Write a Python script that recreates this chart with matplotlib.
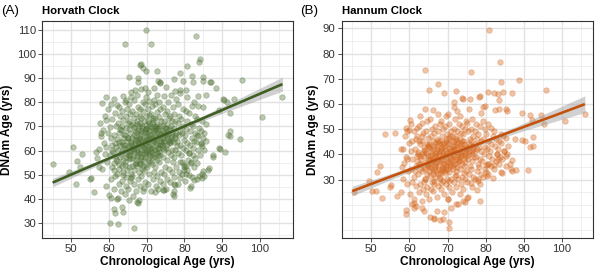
import numpy as np
import matplotlib
matplotlib.use('Agg')
import matplotlib.pyplot as plt

plt.rcParams['font.family'] = ['Liberation Sans', 'DejaVu Sans']

# --- Horvath clock: (chronological age, DNAm age) ---
horvath_points = [
    (45.0, 54.6), (50.3, 61.4), (49.4, 51.1), (51.5, 55.9), (51.1, 46.1), (52.8, 58.6), (52.3, 53.3),
    (55.1, 48.8), (55.0, 48.2), (56.6, 59.6), (56.7, 57.0), (57.2, 53.3), (55.9, 42.9), (59.0, 58.6),
    (60.2, 30.0), (62.4, 29.5), (66.6, 27.9), (61.3, 35.9), (61.5, 34.2), (63.4, 36.6), (63.6, 34.6),
    (62.1, 40.1), (60.4, 40.3), (65.3, 39.8), (67.4, 38.7), (68.0, 39.5), (67.7, 38.3), (69.0, 43.2),
    (72.3, 42.9), (74.3, 43.9), (76.9, 42.0), (77.3, 41.4), (74.6, 43.6), (77.5, 45.7), (78.9, 48.5),
    (81.5, 44.6), (82.1, 49.2), (83.4, 48.3), (84.6, 48.7), (84.6, 50.5), (86.2, 51.9), (87.5, 57.4),
    (89.2, 61.0), (90.7, 59.3), (92.0, 66.0), (94.8, 64.7), (84.5, 62.6), (81.2, 59.0), (82.2, 58.3),
    (80.3, 53.6), (79.9, 51.9), (79.4, 55.5), (92.1, 68.0), (91.5, 66.6), (89.4, 60.8), (87.7, 58.4),
    (86.4, 52.9), (84.8, 51.5), (85.1, 49.7), (83.8, 49.4), (82.4, 48.0), (81.7, 45.3), (80.4, 50.5),
    (77.3, 46.4), (77.3, 43.2), (80.0, 53.1), (81.7, 54.9), (83.3, 66.4), (84.4, 63.2), (57.9, 67.3),
    (64.1, 104.0), (69.9, 110.0), (71.2, 104.2), (83.1, 107.4), (68.1, 95.3), (68.5, 95.8), (69.1, 94.0),
    (69.9, 93.0), (72.6, 93.0), (84.0, 98.0), (83.8, 96.6), (80.8, 95.1), (78.9, 92.3), (65.3, 90.6),
    (67.7, 90.2), (67.6, 88.5), (73.0, 88.8), (73.4, 88.5), (73.6, 88.0), (77.2, 89.5), (79.6, 88.8),
    (81.9, 90.7), (82.2, 88.4), (85.0, 90.6), (86.9, 88.4), (85.0, 89.0), (88.5, 85.8), (95.4, 89.2),
    (106.0, 82.0), (100.7, 74.0), (92.1, 75.5), (58.2, 79.8), (59.1, 82.0), (62.0, 79.0), (64.4, 80.9),
    (65.7, 82.2), (67.0, 85.0), (69.6, 86.0), (71.8, 86.0), (77.5, 84.6), (78.7, 84.0), (80.5, 85.0),
    (83.7, 82.8), (85.8, 83.1), (90.1, 81.2), (91.2, 80.0), (93.2, 81.2), (89.1, 76.8), (85.0, 78.0),
    (83.5, 78.3), (82.0, 78.5), (90.6, 81.0), (87.0, 88.5),
    (57.3, 60.5), (57.8, 66.2), (57.5, 71.4),
    (58.2, 52.4), (58.6, 63.1), (58.4, 68.7), (58.9, 74.2),
    (59.1, 45.3), (59.5, 55.2), (59.3, 61.7), (59.7, 67.4), (59.2, 72.8), (59.8, 77.1),
    (60.1, 41.6), (60.4, 48.2), (60.7, 53.4), (60.2, 58.3), (60.8, 62.5), (60.5, 65.3), (60.3, 69.6),
    (60.9, 73.1), (60.6, 79.2),
    (61.2, 44.3), (61.6, 49.7), (61.4, 52.2), (61.8, 56.6), (61.1, 59.4), (61.7, 63.2), (61.3, 66.5),
    (61.9, 70.3), (61.5, 75.6), (61.2, 81.4),
    (62.3, 40.6), (62.7, 46.1), (62.1, 50.5), (62.5, 54.3), (62.9, 57.2), (62.4, 60.1), (62.8, 62.4),
    (62.2, 64.7), (62.6, 67.3), (62.3, 71.5), (62.9, 74.2), (62.5, 78.1),
    (63.1, 43.4), (63.5, 47.3), (63.8, 51.2), (63.3, 53.6), (63.6, 56.1), (63.2, 58.8), (63.9, 61.3),
    (63.4, 63.5), (63.7, 65.2), (63.1, 68.4), (63.5, 70.1), (63.8, 72.6), (63.3, 76.4), (63.6, 82.5),
    (64.2, 42.1), (64.6, 45.4), (64.4, 49.3), (64.8, 52.1), (64.1, 55.4), (64.5, 57.3), (64.9, 59.6),
    (64.3, 62.2), (64.7, 64.1), (64.2, 66.5), (64.6, 69.2), (64.9, 71.3), (64.4, 74.4), (64.8, 77.3),
    (64.3, 80.1),
    (65.1, 44.2), (65.5, 47.6), (65.8, 50.3), (65.3, 53.1), (65.6, 56.4), (65.2, 58.2), (65.9, 60.3),
    (65.4, 62.1), (65.7, 63.6), (65.1, 65.4), (65.5, 67.2), (65.8, 70.5), (65.3, 72.3), (65.6, 75.1),
    (65.2, 79.3), (65.7, 84.2),
    (66.3, 41.4), (66.7, 46.3), (66.1, 49.5), (66.5, 52.2), (66.9, 54.6), (66.2, 57.1), (66.6, 59.4),
    (66.4, 61.3), (66.8, 63.2), (66.1, 65.1), (66.5, 66.6), (66.9, 68.4), (66.3, 71.2), (66.7, 73.5),
    (66.2, 76.3), (66.6, 81.1),
    (67.2, 43.3), (67.6, 48.4), (67.9, 51.2), (67.4, 53.5), (67.1, 56.2), (67.7, 58.4), (67.3, 60.2),
    (67.8, 62.5), (67.5, 64.3), (67.2, 66.1), (67.6, 68.6), (67.9, 70.2), (67.4, 72.4), (67.1, 75.3),
    (67.7, 78.2), (67.3, 83.1),
    (68.1, 45.2), (68.5, 49.4), (68.8, 52.3), (68.3, 55.1), (68.6, 57.4), (68.2, 59.2), (68.9, 61.5),
    (68.4, 63.1), (68.7, 64.4), (68.1, 66.3), (68.5, 68.2), (68.8, 70.4), (68.3, 71.6), (68.6, 73.3),
    (68.2, 77.4), (68.9, 80.2), (68.4, 85.3),
    (69.2, 44.4), (69.6, 47.2), (69.3, 51.4), (69.8, 54.2), (69.1, 56.3), (69.5, 58.6), (69.9, 60.4),
    (69.4, 62.2), (69.7, 64.5), (69.2, 65.3), (69.6, 67.6), (69.9, 69.1), (69.3, 72.4), (69.7, 74.2),
    (69.1, 76.5), (69.5, 79.3), (69.8, 82.2),
    (70.3, 46.4), (70.7, 50.2), (70.1, 53.3), (70.5, 55.6), (70.9, 58.2), (70.2, 60.4), (70.6, 62.1),
    (70.4, 63.5), (70.8, 65.2), (70.1, 67.3), (70.5, 68.5), (70.9, 70.3), (70.3, 72.2), (70.7, 74.6),
    (70.2, 77.3), (70.6, 80.4), (70.4, 84.1),
    (71.2, 43.5), (71.6, 48.3), (71.9, 51.1), (71.3, 54.4), (71.7, 57.2), (71.1, 59.5), (71.5, 61.3),
    (71.8, 63.4), (71.4, 65.1), (71.2, 66.6), (71.6, 68.3), (71.9, 70.2), (71.3, 71.5), (71.7, 73.4),
    (71.1, 75.2), (71.5, 78.3), (71.8, 81.1),
    (72.4, 45.3), (72.8, 49.5), (72.2, 53.2), (72.6, 56.3), (72.9, 58.1), (72.3, 60.4), (72.7, 62.2),
    (72.1, 64.3), (72.5, 66.2), (72.9, 67.4), (72.4, 69.3), (72.8, 71.2), (72.2, 73.5), (72.6, 76.1),
    (72.3, 79.4), (72.7, 83.2),
    (73.1, 44.2), (73.5, 47.4), (73.8, 51.3), (73.3, 55.2), (73.6, 58.4), (73.2, 61.2), (73.9, 63.3),
    (73.4, 65.4), (73.7, 67.2), (73.1, 69.5), (73.5, 70.4), (73.8, 72.3), (73.3, 74.1), (73.6, 77.4),
    (73.2, 80.3),
    (74.2, 46.2), (74.6, 50.4), (74.9, 53.1), (74.3, 57.3), (74.7, 60.2), (74.1, 62.4), (74.5, 64.2),
    (74.8, 66.5), (74.4, 68.1), (74.2, 70.4), (74.6, 72.2), (74.9, 75.3), (74.3, 78.1), (74.7, 82.4),
    (75.1, 44.3), (75.5, 48.2), (75.8, 52.4), (75.3, 56.1), (75.6, 59.3), (75.2, 61.2), (75.9, 63.4),
    (75.4, 65.5), (75.7, 67.1), (75.1, 69.4), (75.5, 71.2), (75.8, 73.3), (75.3, 76.2), (75.6, 80.1),
    (75.2, 86.3),
    (76.2, 47.1), (76.6, 51.3), (76.9, 55.2), (76.4, 58.4), (76.7, 60.1), (76.1, 63.3), (76.5, 65.2),
    (76.8, 67.4), (76.3, 70.1), (76.6, 72.3), (76.2, 74.4), (76.9, 78.2), (76.4, 83.1),
    (77.3, 49.2), (77.7, 53.4), (77.1, 57.2), (77.5, 60.3), (77.9, 62.1), (77.4, 65.3), (77.8, 67.2),
    (77.2, 69.4), (77.6, 72.1), (77.3, 75.3), (77.7, 81.2),
    (78.2, 46.3), (78.6, 51.1), (78.9, 55.3), (78.4, 59.2), (78.7, 62.4), (78.1, 64.1), (78.5, 66.3),
    (78.8, 68.2), (78.3, 71.4), (78.6, 74.2), (78.2, 79.1), (78.9, 85.2),
    (79.4, 50.2), (79.8, 54.1), (79.2, 58.3), (79.6, 61.2), (79.9, 64.4), (79.3, 67.1), (79.7, 70.3),
    (79.1, 73.2), (79.5, 77.4),
    (80.2, 47.4), (80.6, 52.2), (80.9, 56.1), (80.3, 60.3), (80.7, 63.2), (80.1, 66.4), (80.5, 69.1),
    (80.8, 72.3), (80.4, 76.2), (80.6, 82.1),
    (81.3, 50.1), (81.7, 55.3), (81.1, 59.2), (81.5, 62.4), (81.9, 65.1), (81.4, 68.3), (81.8, 71.2),
    (81.2, 75.4),
    (82.4, 53.2), (82.8, 57.1), (82.2, 61.3), (82.6, 64.2), (82.9, 67.4), (82.3, 70.1), (82.7, 74.3),
    (82.5, 80.2),
    (83.3, 55.1), (83.7, 60.2), (83.1, 63.4), (83.5, 66.1), (83.9, 69.3), (83.4, 73.2),
    (84.2, 58.3), (84.6, 62.1), (84.9, 65.3), (84.4, 68.2), (84.7, 72.1),
    (85.3, 60.4), (85.7, 64.2), (85.1, 67.3), (85.6, 71.1),
    # the darker centre of the cloud
    (61.5, 57.8), (61.9, 61.7), (62.2, 55.7), (62.6, 63.5), (62.9, 68.8), (63.3, 59.9), (63.6, 62.4),
    (63.9, 66.7), (64.1, 53.9), (64.4, 58.5), (64.7, 61.1), (64.9, 65.3), (65.2, 56.9), (65.5, 59.4),
    (65.8, 62.8), (65.3, 68.9), (66.1, 53.6), (66.4, 58.2), (66.7, 60.6), (66.2, 62.3), (66.9, 64.6),
    (66.6, 69.7), (67.1, 55.1), (67.4, 57.5), (67.8, 59.6), (67.3, 61.4), (67.6, 63.5), (67.9, 65.4),
    (67.2, 67.6), (67.5, 70.9), (68.2, 54.3), (68.6, 56.1), (68.9, 58.5), (68.4, 60.3), (68.7, 62.4),
    (68.1, 64.9), (68.4, 67.1), (68.8, 69.3), (68.3, 74.5), (69.1, 53.7), (69.5, 57.4), (69.8, 59.6),
    (69.2, 61.3), (69.6, 63.3), (69.9, 66.1), (69.4, 68.4), (69.7, 70.6), (70.2, 56.7), (70.6, 59.2),
    (70.9, 61.2), (70.3, 64.4), (70.7, 66.3), (70.1, 69.4), (70.5, 71.3), (71.1, 55.4), (71.4, 58.2),
    (71.8, 60.4), (71.2, 62.5), (71.6, 64.3), (71.9, 67.4), (71.3, 69.2), (71.7, 72.5), (72.3, 57.4),
    (72.6, 59.2), (72.9, 61.3), (72.4, 63.2), (72.8, 65.3), (72.2, 68.4), (72.5, 70.3), (73.2, 59.3),
    (73.6, 62.3), (73.9, 64.2), (73.4, 66.4), (73.1, 68.4), (74.3, 61.3), (74.7, 63.4), (74.2, 65.3),
    (74.6, 67.3), (74.9, 69.3), (75.4, 62.3), (75.8, 64.4), (75.2, 66.3), (75.6, 68.4), (76.3, 64.1),
    (76.7, 66.2), (76.2, 68.8), (77.2, 63.5), (77.6, 66.3), (61.2, 55.1), (60.7, 60.2), (62.5, 52.3),
    (63.7, 49.8), (65.7, 48.6),
]

# --- Hannum clock ---
hannum_points = [
    (45.5, 25.1), (50.2, 25.4), (51.2, 25.4), (49.3, 29.3), (51.6, 33.0), (52.2, 35.5), (52.9, 22.5),
    (55.3, 28.0), (55.0, 27.1), (56.7, 23.4), (57.7, 25.1), (57.8, 42.1), (59.1, 39.1), (58.1, 35.1),
    (59.2, 17.8), (59.2, 16.3), (61.3, 20.8), (61.8, 19.5), (63.8, 17.5), (66.4, 14.5), (68.0, 13.8),
    (69.2, 17.3), (70.5, 10.6), (70.3, 13.1), (72.2, 20.1), (74.0, 21.4), (75.1, 22.5), (78.6, 21.4),
    (78.1, 29.3), (80.5, 32.0), (81.8, 30.7), (83.9, 33.0), (84.2, 32.4), (86.6, 34.1), (87.0, 33.4),
    (86.9, 37.9), (91.1, 33.8), (91.5, 42.8), (92.3, 43.4), (90.3, 45.4), (89.5, 45.8), (92.5, 47.0),
    (87.6, 46.2), (84.8, 41.2), (83.1, 38.3), (82.3, 35.6), (80.1, 35.6),
    (59.4, 49.2), (60.6, 20.2), (61.1, 18.9), (63.2, 18.9), (65.4, 15.3), (66.4, 14.7), (68.9, 14.3),
    (67.3, 17.6), (71.0, 18.9), (72.8, 20.2), (74.5, 20.9), (70.0, 22.4), (87.9, 33.8), (86.4, 36.3),
    (85.3, 39.4), (83.0, 40.0), (80.7, 36.0), (80.4, 31.5), (77.9, 30.1), (77.8, 25.8), (75.4, 22.9),
    (76.2, 28.8),
    (80.9, 89.5), (64.1, 73.3), (76.2, 72.6), (83.8, 76.5), (84.1, 68.8), (88.8, 69.4), (95.7, 65.5),
    (65.1, 65.5), (67.6, 68.0), (69.2, 64.3), (72.3, 65.2), (78.2, 62.9), (80.5, 64.9), (83.3, 63.8),
    (84.6, 64.7), (86.8, 64.2), (74.0, 62.0), (75.9, 62.0), (79.7, 59.2), (79.4, 58.6), (64.2, 58.1),
    (66.2, 57.6), (71.6, 58.7), (82.4, 57.5), (83.5, 58.1), (85.2, 58.0), (85.6, 57.0), (89.6, 56.3),
    (91.7, 55.5), (94.6, 55.5), (95.3, 52.1), (100.9, 53.4), (106.1, 55.9), (92.2, 53.7), (60.2, 53.7),
    (56.1, 48.4), (60.0, 49.5), (53.6, 48.0), (61.9, 50.4), (83.6, 61.6), (78.4, 63.2), (82.3, 64.2),
    (71.7, 60.9), (73.9, 62.2), (70.2, 55.9),
    (58.2, 30.3), (58.6, 36.4), (58.4, 42.2), (58.8, 47.1),
    (59.3, 28.2), (59.7, 33.4), (59.5, 38.1), (59.8, 44.3), (59.2, 50.4),
    (60.2, 24.3), (60.6, 29.1), (60.4, 34.2), (60.8, 38.3), (60.3, 41.2), (60.7, 45.4), (60.5, 52.1),
    (61.3, 22.2), (61.7, 27.3), (61.2, 31.1), (61.6, 35.4), (61.9, 39.2), (61.4, 42.3), (61.8, 46.1),
    (61.2, 49.3),
    (62.4, 25.2), (62.8, 28.3), (62.2, 32.1), (62.6, 36.2), (62.9, 39.4), (62.3, 41.1), (62.7, 44.2),
    (62.1, 47.3), (62.5, 51.2), (62.8, 55.1),
    (63.2, 21.3), (63.6, 26.1), (63.9, 29.2), (63.4, 33.3), (63.7, 35.1), (63.1, 38.2), (63.5, 40.4),
    (63.8, 43.1), (63.3, 45.2), (63.6, 48.3), (63.2, 52.4),
    (64.3, 24.1), (64.7, 27.2), (64.1, 30.4), (64.5, 32.3), (64.9, 35.2), (64.4, 37.1), (64.8, 39.3),
    (64.2, 41.4), (64.6, 44.1), (64.9, 46.3), (64.3, 49.2), (64.7, 53.3),
    (65.2, 22.4), (65.6, 26.2), (65.9, 29.1), (65.3, 31.3), (65.7, 34.4), (65.1, 36.1), (65.5, 38.2),
    (65.8, 40.3), (65.4, 42.4), (65.2, 44.2), (65.6, 47.1), (65.9, 50.2), (65.3, 54.1),
    (66.1, 25.3), (66.5, 28.1), (66.8, 31.2), (66.3, 33.4), (66.7, 35.3), (66.2, 37.2), (66.6, 39.4),
    (66.9, 41.1), (66.4, 43.3), (66.1, 45.2), (66.5, 48.4), (66.8, 51.2),
    (67.2, 23.2), (67.6, 27.4), (67.9, 30.1), (67.4, 32.2), (67.8, 34.3), (67.1, 36.4), (67.5, 38.1),
    (67.8, 40.2), (67.3, 42.3), (67.7, 44.4), (67.2, 46.1), (67.6, 49.3), (67.9, 52.2), (67.4, 56.1),
    (68.3, 26.1), (68.7, 29.3), (68.1, 31.2), (68.5, 33.4), (68.9, 35.1), (68.4, 37.3), (68.8, 39.2),
    (68.2, 41.4), (68.6, 43.1), (68.1, 45.3), (68.5, 47.2), (68.9, 50.1), (68.3, 53.2),
    (69.2, 24.3), (69.6, 28.1), (69.9, 30.2), (69.3, 32.4), (69.7, 34.1), (69.1, 36.3), (69.5, 38.2),
    (69.8, 40.4), (69.4, 42.1), (69.2, 44.3), (69.6, 46.2), (69.9, 48.1), (69.3, 51.3), (69.7, 55.2),
    (70.1, 22.3), (70.5, 27.2), (70.8, 30.4), (70.3, 33.1), (70.7, 35.3), (70.2, 37.1), (70.6, 39.3),
    (70.9, 41.2), (70.4, 42.4), (70.1, 44.1), (70.5, 46.3), (70.8, 49.2), (70.3, 52.1),
    (71.2, 25.2), (71.6, 29.1), (71.9, 31.3), (71.4, 34.2), (71.8, 36.1), (71.1, 38.3), (71.5, 40.1),
    (71.8, 42.2), (71.3, 43.4), (71.7, 45.1), (71.2, 47.3), (71.6, 50.2), (71.9, 54.1),
    (72.3, 27.1), (72.7, 30.3), (72.1, 33.2), (72.5, 35.1), (72.9, 37.3), (72.4, 39.2), (72.8, 41.1),
    (72.2, 43.3), (72.6, 45.2), (72.1, 47.1), (72.5, 49.3), (72.9, 52.2), (72.4, 57.1),
    (73.2, 24.2), (73.6, 28.3), (73.9, 31.1), (73.3, 34.2), (73.7, 36.3), (73.1, 38.1), (73.5, 40.2),
    (73.8, 42.4), (73.4, 44.1), (73.2, 46.2), (73.6, 48.4), (73.9, 51.1), (73.3, 55.2),
    (74.1, 26.3), (74.5, 30.1), (74.8, 33.2), (74.3, 35.3), (74.7, 37.1), (74.2, 39.3), (74.6, 41.2),
    (74.9, 43.1), (74.4, 45.3), (74.1, 48.2), (74.5, 50.1), (74.8, 53.3),
    (75.2, 29.2), (75.6, 32.1), (75.9, 35.3), (75.3, 38.2), (75.7, 40.1), (75.1, 42.3), (75.5, 44.2),
    (75.8, 46.1), (75.4, 49.2), (75.2, 52.3), (75.6, 58.1),
    (76.3, 27.2), (76.7, 31.1), (76.1, 34.3), (76.5, 37.2), (76.9, 39.1), (76.4, 41.3), (76.8, 43.2),
    (76.2, 45.1), (76.6, 47.3), (76.1, 50.2), (76.5, 54.1),
    (77.2, 30.1), (77.6, 33.3), (77.9, 36.2), (77.4, 39.1), (77.8, 42.3), (77.3, 44.2), (77.7, 46.1),
    (77.1, 49.2), (77.5, 52.1),
    (78.4, 28.1), (78.8, 32.2), (78.2, 35.1), (78.6, 38.3), (78.9, 41.2), (78.3, 43.1), (78.7, 45.3),
    (78.1, 48.2), (78.5, 51.1), (78.8, 56.2),
    (79.3, 31.2), (79.7, 34.1), (79.1, 37.3), (79.5, 40.2), (79.9, 43.1), (79.4, 46.2), (79.8, 50.1),
    (79.2, 53.3),
    (80.2, 33.1), (80.6, 36.3), (80.9, 39.2), (80.3, 42.1), (80.7, 45.3), (80.1, 48.2), (80.5, 52.1),
    (81.3, 35.2), (81.7, 38.1), (81.1, 41.3), (81.5, 44.2), (81.9, 47.1), (81.4, 50.3),
    (82.2, 34.1), (82.6, 37.2), (82.9, 40.1), (82.4, 43.3), (82.8, 46.2), (82.3, 49.1),
    (83.4, 36.2), (83.8, 39.1), (83.2, 42.3), (83.6, 45.1), (83.9, 48.2),
    (84.3, 38.1), (84.7, 41.2), (84.1, 44.3), (84.5, 47.1),
    (85.2, 35.3), (85.6, 40.1), (85.9, 43.2), (85.4, 46.3),
    # the darker centre of the cloud
    (61.5, 33.3), (61.9, 37.2), (62.3, 40.2), (62.7, 34.3), (63.1, 36.3), (63.5, 39.4), (63.9, 41.7),
    (64.2, 34.3), (64.6, 36.2), (64.9, 38.2), (64.4, 40.4), (64.8, 43.2), (65.1, 33.2), (65.5, 35.3),
    (65.8, 37.2), (65.3, 39.3), (65.7, 41.3), (65.2, 43.3), (66.1, 32.3), (66.5, 34.2), (66.8, 36.3),
    (66.3, 38.2), (66.7, 40.2), (66.2, 42.3), (66.6, 44.3), (67.1, 33.3), (67.5, 35.2), (67.8, 37.3),
    (67.3, 39.2), (67.7, 41.2), (67.2, 43.4), (67.6, 45.3), (68.1, 32.4), (68.5, 34.3), (68.9, 36.2),
    (68.4, 38.3), (68.8, 40.3), (68.2, 42.3), (68.6, 44.2), (69.1, 33.3), (69.5, 35.2), (69.8, 37.2),
    (69.3, 39.3), (69.7, 41.3), (69.2, 43.3), (69.6, 45.2), (70.2, 34.3), (70.6, 36.2), (70.9, 38.2),
    (70.4, 40.3), (70.8, 42.3), (70.2, 44.3), (70.6, 47.2), (71.1, 35.3), (71.5, 37.2), (71.8, 39.3),
    (71.3, 41.3), (71.7, 43.2), (71.2, 45.3), (72.2, 36.2), (72.6, 38.3), (72.9, 40.2), (72.4, 42.2),
    (72.8, 44.3), (72.2, 46.2), (73.1, 37.2), (73.5, 39.3), (73.8, 41.3), (73.3, 43.2), (73.7, 45.2),
    (74.2, 38.2), (74.6, 40.3), (74.9, 42.3), (74.3, 44.2), (75.2, 39.3), (75.6, 41.2), (75.9, 43.2),
    (76.3, 40.2), (76.7, 42.3), (77.3, 41.2), (62.5, 45.3), (63.4, 47.2), (64.1, 30.2), (66.4, 29.4),
    (68.3, 28.7), (70.4, 29.6), (72.3, 31.8), (74.4, 32.6),
]

# fitted regression lines with 95% band
band_age = [45, 55, 65, 71, 80, 90, 100, 106]
horvath_fit = [46.8, 53.5, 60.1, 64.1, 70.1, 76.8, 83.5, 87.5]
horvath_lo = [45.0, 52.4, 59.5, 63.6, 69.4, 75.4, 81.2, 84.6]
horvath_hi = [48.6, 54.6, 60.7, 64.6, 70.8, 78.2, 85.8, 90.4]
hannum_fit = [25.4, 31.1, 36.7, 40.1, 45.2, 50.9, 56.5, 59.9]
hannum_lo = [23.5, 29.9, 36.0, 39.5, 44.4, 49.4, 53.9, 56.6]
hannum_hi = [27.3, 32.3, 37.4, 40.7, 46.0, 52.4, 59.1, 63.2]

panels = [
    dict(tag='(A)', title='Horvath Clock', pts=horvath_points, fit=horvath_fit,
         lo=horvath_lo, hi=horvath_hi, color='#3f5f22', pcolor='#4c6e30',
         xlim=(42.2, 108.8), ylim=(23.9, 113.6), yticks=range(30, 111, 10),
         yminor=range(25, 114, 10), left=42),
    dict(tag='(B)', title='Hannum Clock', pts=hannum_points, fit=hannum_fit,
         lo=hannum_lo, hi=hannum_hi, color='#c4520c', pcolor='#d4651a',
         xlim=(42.2, 108.0), ylim=(6.8, 92.9), yticks=range(30, 91, 10),
         yminor=range(10, 93, 5), left=341.5),
]

W, H = 600, 271
fig = plt.figure(figsize=(W / 100, H / 100), dpi=100)

for p in panels:
    ax = fig.add_axes([p['left'] / W, 1 - 238 / H, 251 / W, 217 / H])
    pts = np.array(p['pts'])
    ax.set_xlim(*p['xlim'])
    ax.set_ylim(*p['ylim'])

    for v in range(45, 110, 10):
        ax.axvline(v, color='#ededed', lw=0.6, zorder=0)
    for v in p['yminor']:
        if v % 10 != 0 or v < 30:
            ax.axhline(v, color='#ededed', lw=0.6, zorder=0)
    for v in range(50, 101, 10):
        ax.axvline(v, color='#e2e2e2', lw=1.0, zorder=0)
    for v in p['yticks']:
        ax.axhline(v, color='#e2e2e2', lw=1.0, zorder=0)

    ax.scatter(pts[:, 0], pts[:, 1], s=16, color=p['pcolor'], alpha=0.38,
               edgecolors=p['pcolor'], linewidths=0.5, zorder=2)
    ax.fill_between(band_age, p['lo'], p['hi'], color='#9a9a9a', alpha=0.45,
                    lw=0, zorder=3)
    ax.plot(band_age, p['fit'], color=p['color'], lw=1.9, zorder=4,
            solid_capstyle='butt')

    ax.set_xticks(range(50, 101, 10))
    ax.set_yticks(list(p['yticks']))
    ax.tick_params(labelsize=8.2, colors='#333333', length=2.8, width=0.6,
                   pad=1.5)
    for s in ax.spines.values():
        s.set_color('#333333')
        s.set_linewidth(0.8)

    ax.set_xlabel('Chronological Age (yrs)', fontsize=8.6, fontweight='bold',
                  labelpad=1.5)
    ax.set_ylabel('DNAm Age (yrs)', fontsize=8.6, fontweight='bold',
                  labelpad=2.5)

    x0 = p['left'] / W
    fig.text(x0, 1 - 11 / H, p['title'], fontsize=8.2, fontweight='bold',
             va='center', ha='left')
    fig.text(x0 - 41 / W, 1 - 11 / H, p['tag'], fontsize=9.6, va='center',
             ha='left')

fig.savefig('out.png', dpi=100)
